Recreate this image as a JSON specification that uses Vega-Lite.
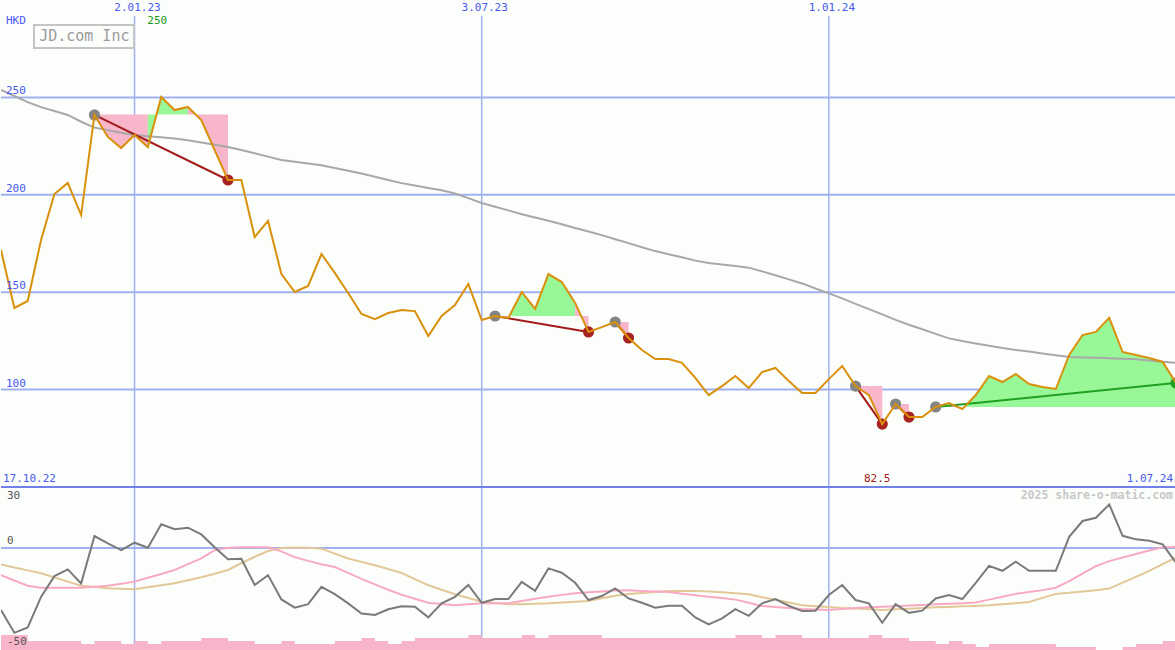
{
"$schema": "https://vega.github.io/schema/vega-lite/v6.json",
"padding": 0,
"spacing": 0,
"bounds": "flush",
"background": "#fcfefc",
"config": {"view": {"stroke": null}, "axis": {"disable": true}, "legend": {"disable": true}},
"datasets": {
"weekly": [
{"date":"2022-10-24","close":171.7,"ma":253.8,"osc":-31.4,"fast":-13.7,"slow":-8.3,"vol":10},
{"date":"2022-10-31","close":141.9,"ma":250.7,"osc":-42.9,"fast":-16.4,"slow":-9.8,"vol":10},
{"date":"2022-11-07","close":145.5,"ma":247.6,"osc":-40.2,"fast":-19.1,"slow":-11.3,"vol":6},
{"date":"2022-11-14","close":176.8,"ma":245.0,"osc":-24.7,"fast":-20.1,"slow":-12.8,"vol":6},
{"date":"2022-11-21","close":200.4,"ma":243.0,"osc":-14.2,"fast":-20.1,"slow":-14.9,"vol":6},
{"date":"2022-11-28","close":206.1,"ma":241.0,"osc":-10.8,"fast":-20.1,"slow":-17.0,"vol":6},
{"date":"2022-12-05","close":189.6,"ma":237.5,"osc":-17.9,"fast":-20.1,"slow":-19.1,"vol":4},
{"date":"2022-12-12","close":241.0,"ma":234.5,"osc":6.1,"fast":-19.6,"slow":-19.7,"vol":6},
{"date":"2022-12-19","close":229.7,"ma":233.2,"osc":2.4,"fast":-19.1,"slow":-20.4,"vol":6},
{"date":"2022-12-26","close":224.0,"ma":231.9,"osc":-1.0,"fast":-18.1,"slow":-20.6,"vol":4},
{"date":"2023-01-02","close":230.7,"ma":230.7,"osc":2.7,"fast":-17.0,"slow":-20.8,"vol":6},
{"date":"2023-01-09","close":224.5,"ma":230.1,"osc":0.2,"fast":-15.0,"slow":-19.8,"vol":4},
{"date":"2023-01-16","close":250.2,"ma":229.5,"osc":12.0,"fast":-13.1,"slow":-18.8,"vol":6},
{"date":"2023-01-23","close":243.5,"ma":228.9,"osc":9.5,"fast":-11.1,"slow":-17.8,"vol":6},
{"date":"2023-01-30","close":245.1,"ma":228.0,"osc":10.3,"fast":-8.1,"slow":-16.3,"vol":6},
{"date":"2023-02-06","close":238.4,"ma":226.9,"osc":6.9,"fast":-5.2,"slow":-14.8,"vol":8},
{"date":"2023-02-13","close":223.0,"ma":225.7,"osc":0.4,"fast":-1.1,"slow":-13.0,"vol":8},
{"date":"2023-02-20","close":207.6,"ma":224.5,"osc":-5.7,"fast":0.2,"slow":-11.1,"vol":6},
{"date":"2023-02-27","close":207.6,"ma":223.0,"osc":-5.4,"fast":0.4,"slow":-7.7,"vol":6},
{"date":"2023-03-06","close":178.3,"ma":221.3,"osc":-18.7,"fast":0.4,"slow":-4.4,"vol":4},
{"date":"2023-03-13","close":186.6,"ma":219.6,"osc":-13.7,"fast":0.4,"slow":-1.5,"vol":4},
{"date":"2023-03-20","close":159.3,"ma":217.9,"osc":-26.0,"fast":-1.7,"slow":0.0,"vol":6},
{"date":"2023-03-27","close":150.1,"ma":217.0,"osc":-30.2,"fast":-4.6,"slow":0.3,"vol":4},
{"date":"2023-04-03","close":153.2,"ma":216.1,"osc":-28.4,"fast":-6.5,"slow":0.2,"vol":4},
{"date":"2023-04-10","close":169.6,"ma":215.2,"osc":-19.6,"fast":-8.2,"slow":-0.3,"vol":4},
{"date":"2023-04-17","close":159.9,"ma":213.8,"osc":-23.3,"fast":-9.6,"slow":-2.8,"vol":6},
{"date":"2023-04-24","close":149.6,"ma":212.3,"osc":-28.0,"fast":-12.6,"slow":-5.3,"vol":6},
{"date":"2023-05-01","close":138.8,"ma":210.9,"osc":-33.1,"fast":-15.6,"slow":-7.0,"vol":8},
{"date":"2023-05-08","close":136.2,"ma":209.3,"osc":-33.9,"fast":-18.4,"slow":-8.7,"vol":6},
{"date":"2023-05-15","close":139.3,"ma":207.6,"osc":-31.0,"fast":-21.1,"slow":-10.6,"vol":4},
{"date":"2023-05-22","close":140.9,"ma":206.0,"osc":-29.5,"fast":-23.6,"slow":-12.6,"vol":6},
{"date":"2023-05-29","close":140.3,"ma":204.8,"osc":-29.7,"fast":-25.7,"slow":-15.7,"vol":8},
{"date":"2023-06-05","close":127.5,"ma":203.5,"osc":-35.1,"fast":-27.7,"slow":-18.8,"vol":8},
{"date":"2023-06-12","close":137.8,"ma":202.3,"osc":-28.0,"fast":-28.3,"slow":-21.1,"vol":8},
{"date":"2023-06-19","close":143.4,"ma":200.7,"osc":-24.7,"fast":-28.9,"slow":-23.4,"vol":8},
{"date":"2023-06-26","close":154.2,"ma":198.3,"osc":-18.7,"fast":-28.4,"slow":-25.3,"vol":10},
{"date":"2023-07-03","close":135.7,"ma":195.8,"osc":-27.7,"fast":-28.0,"slow":-27.2,"vol":8},
{"date":"2023-07-10","close":137.8,"ma":193.9,"osc":-25.8,"fast":-28.0,"slow":-27.8,"vol":8},
{"date":"2023-07-17","close":136.8,"ma":192.0,"osc":-25.8,"fast":-27.9,"slow":-28.5,"vol":8},
{"date":"2023-07-24","close":150.1,"ma":190.0,"osc":-17.1,"fast":-26.8,"slow":-28.4,"vol":10},
{"date":"2023-07-31","close":141.4,"ma":188.3,"osc":-21.6,"fast":-25.7,"slow":-28.2,"vol":8},
{"date":"2023-08-07","close":159.3,"ma":186.7,"osc":-10.3,"fast":-24.6,"slow":-28.0,"vol":10},
{"date":"2023-08-14","close":155.2,"ma":184.9,"osc":-12.5,"fast":-23.7,"slow":-27.6,"vol":10},
{"date":"2023-08-21","close":144.5,"ma":183.0,"osc":-17.6,"fast":-22.9,"slow":-27.2,"vol":10},
{"date":"2023-08-28","close":129.6,"ma":181.2,"osc":-26.3,"fast":-22.4,"slow":-26.8,"vol":10},
{"date":"2023-09-04","close":132.1,"ma":179.3,"osc":-24.3,"fast":-22.0,"slow":-25.4,"vol":8},
{"date":"2023-09-11","close":134.7,"ma":177.2,"osc":-20.4,"fast":-21.5,"slow":-24.1,"vol":8},
{"date":"2023-09-18","close":126.5,"ma":175.2,"osc":-25.5,"fast":-21.4,"slow":-23.2,"vol":8},
{"date":"2023-09-25","close":120.3,"ma":173.1,"osc":-27.7,"fast":-21.7,"slow":-22.7,"vol":8},
{"date":"2023-10-02","close":115.7,"ma":171.1,"osc":-30.2,"fast":-22.0,"slow":-22.2,"vol":8},
{"date":"2023-10-09","close":115.7,"ma":169.5,"osc":-29.2,"fast":-22.3,"slow":-21.8,"vol":8},
{"date":"2023-10-16","close":113.7,"ma":167.9,"osc":-29.2,"fast":-23.1,"slow":-21.8,"vol":8},
{"date":"2023-10-23","close":106.0,"ma":166.2,"osc":-35.1,"fast":-23.9,"slow":-21.8,"vol":8},
{"date":"2023-10-30","close":97.2,"ma":165.0,"osc":-38.6,"fast":-24.7,"slow":-22.0,"vol":8},
{"date":"2023-11-06","close":101.8,"ma":164.2,"osc":-35.6,"fast":-25.3,"slow":-22.4,"vol":8},
{"date":"2023-11-13","close":107.0,"ma":163.4,"osc":-30.9,"fast":-26.1,"slow":-22.9,"vol":10},
{"date":"2023-11-20","close":100.8,"ma":162.6,"osc":-34.3,"fast":-27.7,"slow":-23.4,"vol":10},
{"date":"2023-11-27","close":109.0,"ma":160.7,"osc":-28.0,"fast":-29.3,"slow":-24.9,"vol":8},
{"date":"2023-12-04","close":111.1,"ma":158.7,"osc":-25.8,"fast":-29.8,"slow":-26.2,"vol":10},
{"date":"2023-12-11","close":104.4,"ma":156.6,"osc":-29.2,"fast":-30.4,"slow":-27.6,"vol":10},
{"date":"2023-12-18","close":98.3,"ma":154.5,"osc":-31.9,"fast":-30.9,"slow":-28.9,"vol":8},
{"date":"2023-12-25","close":98.3,"ma":151.9,"osc":-31.7,"fast":-31.1,"slow":-29.4,"vol":8},
{"date":"2024-01-01","close":105.4,"ma":149.4,"osc":-23.8,"fast":-31.4,"slow":-29.8,"vol":8},
{"date":"2024-01-08","close":112.1,"ma":146.8,"osc":-18.7,"fast":-30.9,"slow":-30.3,"vol":8},
{"date":"2024-01-15","close":101.8,"ma":144.0,"osc":-26.3,"fast":-30.4,"slow":-30.6,"vol":8},
{"date":"2024-01-22","close":97.2,"ma":141.3,"osc":-28.0,"fast":-30.0,"slow":-31.0,"vol":10},
{"date":"2024-01-29","close":82.3,"ma":138.6,"osc":-37.8,"fast":-29.7,"slow":-31.3,"vol":8},
{"date":"2024-02-05","close":92.6,"ma":135.8,"osc":-28.4,"fast":-29.4,"slow":-31.0,"vol":8},
{"date":"2024-02-12","close":85.9,"ma":133.3,"osc":-32.8,"fast":-29.1,"slow":-30.7,"vol":6},
{"date":"2024-02-19","close":85.9,"ma":131.0,"osc":-31.7,"fast":-28.8,"slow":-30.3,"vol":6},
{"date":"2024-02-26","close":91.1,"ma":128.6,"osc":-25.5,"fast":-28.5,"slow":-30.0,"vol":4},
{"date":"2024-03-04","close":93.1,"ma":126.3,"osc":-23.8,"fast":-28.2,"slow":-29.8,"vol":6},
{"date":"2024-03-11","close":90.0,"ma":124.9,"osc":-25.8,"fast":-27.9,"slow":-29.5,"vol":4},
{"date":"2024-03-18","close":97.2,"ma":123.7,"osc":-17.6,"fast":-27.5,"slow":-29.3,"vol":2},
{"date":"2024-03-25","close":107.0,"ma":122.5,"osc":-9.0,"fast":-26.1,"slow":-29.0,"vol":4},
{"date":"2024-04-01","close":103.9,"ma":121.3,"osc":-11.5,"fast":-24.6,"slow":-28.5,"vol":4},
{"date":"2024-04-08","close":108.0,"ma":120.3,"osc":-6.9,"fast":-23.2,"slow":-27.9,"vol":4},
{"date":"2024-04-15","close":102.9,"ma":119.5,"osc":-11.5,"fast":-22.2,"slow":-27.3,"vol":4},
{"date":"2024-04-22","close":101.3,"ma":118.5,"osc":-11.5,"fast":-21.3,"slow":-25.2,"vol":4},
{"date":"2024-04-29","close":100.3,"ma":117.6,"osc":-11.5,"fast":-20.1,"slow":-23.2,"vol":2},
{"date":"2024-05-06","close":117.8,"ma":116.7,"osc":5.7,"fast":-16.7,"slow":-22.6,"vol":2},
{"date":"2024-05-13","close":128.0,"ma":116.5,"osc":13.7,"fast":-12.9,"slow":-22.0,"vol":2},
{"date":"2024-05-20","close":129.6,"ma":116.3,"osc":15.3,"fast":-9.2,"slow":-21.3,"vol":0},
{"date":"2024-05-27","close":136.8,"ma":116.1,"osc":22.1,"fast":-6.6,"slow":-20.5,"vol":0},
{"date":"2024-06-03","close":119.3,"ma":115.9,"osc":6.2,"fast":-4.8,"slow":-17.5,"vol":2},
{"date":"2024-06-10","close":117.8,"ma":115.6,"osc":4.4,"fast":-3.0,"slow":-14.6,"vol":4},
{"date":"2024-06-17","close":116.2,"ma":115.0,"osc":3.7,"fast":-1.2,"slow":-11.6,"vol":4},
{"date":"2024-06-24","close":114.2,"ma":114.3,"osc":1.9,"fast":0.4,"slow":-8.1,"vol":6},
{"date":"2024-07-01","close":103.4,"ma":113.7,"osc":-7.4,"fast":0.7,"slow":-4.8,"vol":6}
],
"shade": [
{"g":"a1","sign":"down","base":241.2,"date":"2022-12-12","price":241.0},
{"g":"a1","sign":"down","base":241.2,"date":"2022-12-19","price":229.7},
{"g":"a1","sign":"down","base":241.2,"date":"2022-12-26","price":224.0},
{"g":"a1","sign":"down","base":241.2,"date":"2023-01-02","price":230.7},
{"g":"a1","sign":"down","base":241.2,"date":"2023-01-09","price":224.5},
{"g":"a2","sign":"up","base":241.2,"date":"2023-01-09","price":224.5},
{"g":"a2","sign":"up","base":241.2,"date":"2023-01-16","price":250.2},
{"g":"a2","sign":"up","base":241.2,"date":"2023-01-23","price":243.5},
{"g":"a2","sign":"up","base":241.2,"date":"2023-01-30","price":245.1},
{"g":"a3","sign":"down","base":241.2,"date":"2023-01-30","price":245.1},
{"g":"a3","sign":"down","base":241.2,"date":"2023-02-06","price":238.4},
{"g":"a3","sign":"down","base":241.2,"date":"2023-02-13","price":223.0},
{"g":"a3","sign":"down","base":241.2,"date":"2023-02-20","price":207.6},
{"g":"b1","sign":"down","base":137.8,"date":"2023-07-10","price":137.8},
{"g":"b1","sign":"down","base":137.8,"date":"2023-07-17","price":136.8},
{"g":"b2","sign":"up","base":137.8,"date":"2023-07-17","price":136.8},
{"g":"b2","sign":"up","base":137.8,"date":"2023-07-24","price":150.1},
{"g":"b2","sign":"up","base":137.8,"date":"2023-07-31","price":141.4},
{"g":"b2","sign":"up","base":137.8,"date":"2023-08-07","price":159.3},
{"g":"b2","sign":"up","base":137.8,"date":"2023-08-14","price":155.2},
{"g":"b2","sign":"up","base":137.8,"date":"2023-08-21","price":144.5},
{"g":"b3","sign":"down","base":137.8,"date":"2023-08-21","price":144.5},
{"g":"b3","sign":"down","base":137.8,"date":"2023-08-28","price":129.6},
{"g":"c1","sign":"down","base":134.7,"date":"2023-09-11","price":134.7},
{"g":"c1","sign":"down","base":134.7,"date":"2023-09-18","price":126.5},
{"g":"d1","sign":"down","base":101.8,"date":"2024-01-15","price":101.8},
{"g":"d1","sign":"down","base":101.8,"date":"2024-01-22","price":97.2},
{"g":"d1","sign":"down","base":101.8,"date":"2024-01-29","price":82.3},
{"g":"e1","sign":"down","base":92.6,"date":"2024-02-05","price":92.6},
{"g":"e1","sign":"down","base":92.6,"date":"2024-02-12","price":85.9},
{"g":"f1","sign":"up","base":91.1,"date":"2024-02-26","price":91.1},
{"g":"f1","sign":"up","base":91.1,"date":"2024-03-04","price":93.1},
{"g":"f2","sign":"down","base":91.1,"date":"2024-03-04","price":93.1},
{"g":"f2","sign":"down","base":91.1,"date":"2024-03-11","price":90.0},
{"g":"f3","sign":"up","base":91.1,"date":"2024-03-11","price":90.0},
{"g":"f3","sign":"up","base":91.1,"date":"2024-03-18","price":97.2},
{"g":"f3","sign":"up","base":91.1,"date":"2024-03-25","price":107.0},
{"g":"f3","sign":"up","base":91.1,"date":"2024-04-01","price":103.9},
{"g":"f3","sign":"up","base":91.1,"date":"2024-04-08","price":108.0},
{"g":"f3","sign":"up","base":91.1,"date":"2024-04-15","price":102.9},
{"g":"f3","sign":"up","base":91.1,"date":"2024-04-22","price":101.3},
{"g":"f3","sign":"up","base":91.1,"date":"2024-04-29","price":100.3},
{"g":"f3","sign":"up","base":91.1,"date":"2024-05-06","price":117.8},
{"g":"f3","sign":"up","base":91.1,"date":"2024-05-13","price":128.0},
{"g":"f3","sign":"up","base":91.1,"date":"2024-05-20","price":129.6},
{"g":"f3","sign":"up","base":91.1,"date":"2024-05-27","price":136.8},
{"g":"f3","sign":"up","base":91.1,"date":"2024-06-03","price":119.3},
{"g":"f3","sign":"up","base":91.1,"date":"2024-06-10","price":117.8},
{"g":"f3","sign":"up","base":91.1,"date":"2024-06-17","price":116.2},
{"g":"f3","sign":"up","base":91.1,"date":"2024-06-24","price":114.2},
{"g":"f3","sign":"up","base":91.1,"date":"2024-07-01","price":103.4}
],
"trades": [
{"t":"t1","res":"loss","role":"entry","date":"2022-12-12","price":241.0},
{"t":"t1","res":"loss","role":"loss","date":"2023-02-20","price":207.6},
{"t":"t2","res":"loss","role":"entry","date":"2023-07-10","price":137.8},
{"t":"t2","res":"loss","role":"loss","date":"2023-08-28","price":129.6},
{"t":"t3","res":"loss","role":"entry","date":"2023-09-11","price":134.7},
{"t":"t3","res":"loss","role":"loss","date":"2023-09-18","price":126.5},
{"t":"t4","res":"loss","role":"entry","date":"2024-01-15","price":101.8},
{"t":"t4","res":"loss","role":"loss","date":"2024-01-29","price":82.3},
{"t":"t5","res":"loss","role":"entry","date":"2024-02-05","price":92.6},
{"t":"t5","res":"loss","role":"loss","date":"2024-02-12","price":85.9},
{"t":"t6","res":"win","role":"entry","date":"2024-02-26","price":91.1},
{"t":"t6","res":"win","role":"win","date":"2024-07-01","price":103.4}
],
"gridDates": [
{"date":"2023-01-02","label":"2.01.23"},
{"date":"2023-07-03","label":"3.07.23"},
{"date":"2024-01-01","label":"1.01.24"}
],
"gridLevels": [{"v":100},{"v":150},{"v":200},{"v":250}],
"one": [{}]
},
"vconcat": [
{
"width": 1175,
"height": 487,
"resolve": {"scale": {"color": "independent"}},
"layer": [
{"data": {"name": "gridLevels"},
 "mark": {"type": "rule", "color": "#a0b0f0", "strokeWidth": 2},
 "encoding": {"y": {"field": "v", "type": "quantitative", "scale": {"domain": [50, 300], "nice": false, "zero": false}, "axis": null}}},
{"data": {"name": "gridDates"},
 "mark": {"type": "rule", "color": "#a0b0f0", "strokeWidth": 1.5},
 "encoding": {
  "x": {"field": "date", "type": "temporal", "scale": {"type": "utc", "domain": [{"year": 2022, "month": 10, "date": 24, "utc": true}, {"year": 2024, "month": 7, "date": 1, "utc": true}]}, "axis": null},
  "y": {"datum": 291.8, "type": "quantitative", "scale": {"domain": [50, 300], "nice": false, "zero": false}, "axis": null},
  "y2": {"datum": 50}}},
{"data": {"name": "shade"},
 "mark": {"type": "area", "opacity": 1, "clip": true},
 "encoding": {
  "x": {"field": "date", "type": "temporal", "scale": {"type": "utc", "domain": [{"year": 2022, "month": 10, "date": 24, "utc": true}, {"year": 2024, "month": 7, "date": 1, "utc": true}]}, "axis": null},
  "y": {"field": "price", "type": "quantitative", "stack": null, "scale": {"domain": [50, 300], "nice": false, "zero": false}, "axis": null},
  "y2": {"field": "base"},
  "detail": {"field": "g"},
  "color": {"field": "sign", "type": "nominal", "scale": {"domain": ["up", "down"], "range": ["#98f898", "#f8b6ca"]}, "legend": null}}},
{"data": {"name": "weekly"},
 "mark": {"type": "line", "color": "#a8a8a8", "strokeWidth": 2, "clip": true},
 "encoding": {
  "x": {"field": "date", "type": "temporal", "scale": {"type": "utc", "domain": [{"year": 2022, "month": 10, "date": 24, "utc": true}, {"year": 2024, "month": 7, "date": 1, "utc": true}]}, "axis": null},
  "y": {"field": "ma", "type": "quantitative", "scale": {"domain": [50, 300], "nice": false, "zero": false}, "axis": null}}},
{"data": {"name": "trades"},
 "mark": {"type": "line", "strokeWidth": 2, "clip": true},
 "encoding": {
  "x": {"field": "date", "type": "temporal", "scale": {"type": "utc", "domain": [{"year": 2022, "month": 10, "date": 24, "utc": true}, {"year": 2024, "month": 7, "date": 1, "utc": true}]}, "axis": null},
  "y": {"field": "price", "type": "quantitative", "scale": {"domain": [50, 300], "nice": false, "zero": false}, "axis": null},
  "detail": {"field": "t"},
  "color": {"field": "res", "type": "nominal", "scale": {"domain": ["loss", "win"], "range": ["#a31a1a", "#22a022"]}, "legend": null}}},
{"data": {"name": "trades"},
 "mark": {"type": "circle", "size": 125, "opacity": 1, "clip": true},
 "encoding": {
  "x": {"field": "date", "type": "temporal", "scale": {"type": "utc", "domain": [{"year": 2022, "month": 10, "date": 24, "utc": true}, {"year": 2024, "month": 7, "date": 1, "utc": true}]}, "axis": null},
  "y": {"field": "price", "type": "quantitative", "scale": {"domain": [50, 300], "nice": false, "zero": false}, "axis": null},
  "color": {"field": "role", "type": "nominal", "scale": {"domain": ["entry", "loss", "win"], "range": ["#848484", "#a82222", "#22a022"]}, "legend": null}}},
{"data": {"name": "weekly"},
 "mark": {"type": "line", "color": "#d9900a", "strokeWidth": 2, "clip": true},
 "encoding": {
  "x": {"field": "date", "type": "temporal", "scale": {"type": "utc", "domain": [{"year": 2022, "month": 10, "date": 24, "utc": true}, {"year": 2024, "month": 7, "date": 1, "utc": true}]}, "axis": null},
  "y": {"field": "close", "type": "quantitative", "scale": {"domain": [50, 300], "nice": false, "zero": false}, "axis": null}}},
{"data": {"name": "one"},
 "mark": {"type": "rule", "color": "#7080e8", "strokeWidth": 2, "clip": true},
 "encoding": {"y": {"datum": 50, "type": "quantitative", "scale": {"domain": [50, 300], "nice": false, "zero": false}, "axis": null}}},
{"data": {"name": "gridDates"},
 "mark": {"type": "text", "font": "DejaVu Sans Mono", "fontSize": 11, "color": "#4858f0", "align": "center", "baseline": "middle", "dx": 3},
 "encoding": {
  "x": {"field": "date", "type": "temporal", "scale": {"type": "utc", "domain": [{"year": 2022, "month": 10, "date": 24, "utc": true}, {"year": 2024, "month": 7, "date": 1, "utc": true}]}, "axis": null},
  "y": {"datum": 295.7, "type": "quantitative", "scale": {"domain": [50, 300], "nice": false, "zero": false}, "axis": null},
  "text": {"field": "label", "type": "nominal"}}},
{"data": {"name": "gridLevels"},
 "mark": {"type": "text", "font": "DejaVu Sans Mono", "fontSize": 11, "color": "#4858f0", "align": "left", "baseline": "middle", "dx": 5, "dy": -6},
 "encoding": {
  "x": {"datum": {"year": 2022, "month": 10, "date": 24, "utc": true}, "type": "temporal", "scale": {"type": "utc", "domain": [{"year": 2022, "month": 10, "date": 24, "utc": true}, {"year": 2024, "month": 7, "date": 1, "utc": true}]}, "axis": null},
  "y": {"field": "v", "type": "quantitative", "scale": {"domain": [50, 300], "nice": false, "zero": false}, "axis": null},
  "text": {"field": "v", "type": "nominal"}}},
{"data": {"name": "one"},
 "mark": {"type": "text", "text": "HKD", "font": "DejaVu Sans Mono", "fontSize": 11, "color": "#4858f0", "align": "left", "baseline": "middle", "dx": 5},
 "encoding": {
  "x": {"datum": {"year": 2022, "month": 10, "date": 24, "utc": true}, "type": "temporal", "scale": {"type": "utc", "domain": [{"year": 2022, "month": 10, "date": 24, "utc": true}, {"year": 2024, "month": 7, "date": 1, "utc": true}]}, "axis": null},
  "y": {"datum": 289.2, "type": "quantitative", "scale": {"domain": [50, 300], "nice": false, "zero": false}, "axis": null}}},
{"data": {"name": "one"},
 "mark": {"type": "text", "text": "250", "font": "DejaVu Sans Mono", "fontSize": 11, "color": "#1a9a1a", "align": "center", "baseline": "middle", "dx": -4},
 "encoding": {
  "x": {"datum": {"year": 2023, "month": 1, "date": 16, "utc": true}, "type": "temporal", "scale": {"type": "utc", "domain": [{"year": 2022, "month": 10, "date": 24, "utc": true}, {"year": 2024, "month": 7, "date": 1, "utc": true}]}, "axis": null},
  "y": {"datum": 289.2, "type": "quantitative", "scale": {"domain": [50, 300], "nice": false, "zero": false}, "axis": null}}},
{"data": {"name": "one"},
 "mark": {"type": "rect", "filled": false, "color": "#c4c4c4", "strokeWidth": 2},
 "encoding": {
  "x": {"datum": {"year": 2022, "month": 11, "date": 10, "hours": 7, "utc": true}, "type": "temporal", "scale": {"type": "utc", "domain": [{"year": 2022, "month": 10, "date": 24, "utc": true}, {"year": 2024, "month": 7, "date": 1, "utc": true}]}, "axis": null},
  "x2": {"datum": {"year": 2023, "month": 1, "date": 1, "hours": 17, "utc": true}},
  "y": {"datum": 287.2, "type": "quantitative", "scale": {"domain": [50, 300], "nice": false, "zero": false}, "axis": null},
  "y2": {"datum": 275.4}}},
{"data": {"name": "one"},
 "mark": {"type": "text", "text": "JD.com Inc", "font": "DejaVu Sans Mono", "fontSize": 15, "color": "#9a9a9a", "align": "left", "baseline": "middle"},
 "encoding": {
  "x": {"datum": {"year": 2022, "month": 11, "date": 13, "utc": true}, "type": "temporal", "scale": {"type": "utc", "domain": [{"year": 2022, "month": 10, "date": 24, "utc": true}, {"year": 2024, "month": 7, "date": 1, "utc": true}]}, "axis": null},
  "y": {"datum": 281.3, "type": "quantitative", "scale": {"domain": [50, 300], "nice": false, "zero": false}, "axis": null}}},
{"data": {"name": "one"},
 "mark": {"type": "text", "text": "17.10.22", "font": "DejaVu Sans Mono", "fontSize": 11, "color": "#4858f0", "align": "left", "baseline": "middle", "dx": 2},
 "encoding": {
  "x": {"datum": {"year": 2022, "month": 10, "date": 24, "utc": true}, "type": "temporal", "scale": {"type": "utc", "domain": [{"year": 2022, "month": 10, "date": 24, "utc": true}, {"year": 2024, "month": 7, "date": 1, "utc": true}]}, "axis": null},
  "y": {"datum": 54.1, "type": "quantitative", "scale": {"domain": [50, 300], "nice": false, "zero": false}, "axis": null}}},
{"data": {"name": "one"},
 "mark": {"type": "text", "text": "82.5", "font": "DejaVu Sans Mono", "fontSize": 11, "color": "#a01818", "align": "center", "baseline": "middle", "dx": -5},
 "encoding": {
  "x": {"datum": {"year": 2024, "month": 1, "date": 29, "utc": true}, "type": "temporal", "scale": {"type": "utc", "domain": [{"year": 2022, "month": 10, "date": 24, "utc": true}, {"year": 2024, "month": 7, "date": 1, "utc": true}]}, "axis": null},
  "y": {"datum": 54.1, "type": "quantitative", "scale": {"domain": [50, 300], "nice": false, "zero": false}, "axis": null}}},
{"data": {"name": "one"},
 "mark": {"type": "text", "text": "1.07.24", "font": "DejaVu Sans Mono", "fontSize": 11, "color": "#4858f0", "align": "right", "baseline": "middle", "dx": -3},
 "encoding": {
  "x": {"datum": {"year": 2024, "month": 7, "date": 1, "utc": true}, "type": "temporal", "scale": {"type": "utc", "domain": [{"year": 2022, "month": 10, "date": 24, "utc": true}, {"year": 2024, "month": 7, "date": 1, "utc": true}]}, "axis": null},
  "y": {"datum": 54.1, "type": "quantitative", "scale": {"domain": [50, 300], "nice": false, "zero": false}, "axis": null}}}
]
},
{
"width": 1175,
"height": 163,
"resolve": {"scale": {"y": "independent"}},
"layer": [
{"data": {"name": "gridDates"},
 "mark": {"type": "rule", "color": "#a0b0f0", "strokeWidth": 1.5},
 "encoding": {
  "x": {"field": "date", "type": "temporal", "scale": {"type": "utc", "domain": [{"year": 2022, "month": 10, "date": 24, "utc": true}, {"year": 2024, "month": 7, "date": 1, "utc": true}]}, "axis": null}}},
{"data": {"name": "one"},
 "mark": {"type": "rule", "color": "#a0b0f0", "strokeWidth": 2},
 "encoding": {"y": {"datum": 0, "type": "quantitative", "scale": {"domain": [-51.6, 30.9], "nice": false, "zero": false}, "axis": null}}},
{"data": {"name": "one"},
 "mark": {"type": "rule", "color": "#7080e8", "strokeWidth": 2, "clip": true},
 "encoding": {"y": {"datum": 30.9, "type": "quantitative", "scale": {"domain": [-51.6, 30.9], "nice": false, "zero": false}, "axis": null}}},
{"data": {"name": "weekly"},
 "mark": {"type": "area", "interpolate": "step-after", "color": "#f8b4c8", "opacity": 1},
 "encoding": {
  "x": {"field": "date", "type": "temporal", "scale": {"type": "utc", "domain": [{"year": 2022, "month": 10, "date": 24, "utc": true}, {"year": 2024, "month": 7, "date": 1, "utc": true}]}, "axis": null},
  "y": {"field": "vol", "type": "quantitative", "scale": {"domain": [0, 108.7], "nice": false}, "axis": null}}},
{"data": {"name": "weekly"},
 "mark": {"type": "line", "color": "#e2c898", "strokeWidth": 2, "clip": true},
 "encoding": {
  "x": {"field": "date", "type": "temporal", "scale": {"type": "utc", "domain": [{"year": 2022, "month": 10, "date": 24, "utc": true}, {"year": 2024, "month": 7, "date": 1, "utc": true}]}, "axis": null},
  "y": {"field": "slow", "type": "quantitative", "scale": {"domain": [-51.6, 30.9], "nice": false, "zero": false}, "axis": null}}},
{"data": {"name": "weekly"},
 "mark": {"type": "line", "color": "#f8aac2", "strokeWidth": 2, "clip": true},
 "encoding": {
  "x": {"field": "date", "type": "temporal", "scale": {"type": "utc", "domain": [{"year": 2022, "month": 10, "date": 24, "utc": true}, {"year": 2024, "month": 7, "date": 1, "utc": true}]}, "axis": null},
  "y": {"field": "fast", "type": "quantitative", "scale": {"domain": [-51.6, 30.9], "nice": false, "zero": false}, "axis": null}}},
{"data": {"name": "weekly"},
 "mark": {"type": "line", "color": "#7a7a7a", "strokeWidth": 2, "clip": true},
 "encoding": {
  "x": {"field": "date", "type": "temporal", "scale": {"type": "utc", "domain": [{"year": 2022, "month": 10, "date": 24, "utc": true}, {"year": 2024, "month": 7, "date": 1, "utc": true}]}, "axis": null},
  "y": {"field": "osc", "type": "quantitative", "scale": {"domain": [-51.6, 30.9], "nice": false, "zero": false}, "axis": null}}},
{"data": {"values": [{"v": 26.3, "label": "30"}, {"v": 3.4, "label": "0"}, {"v": -47.5, "label": "-50"}]},
 "mark": {"type": "text", "font": "DejaVu Sans Mono", "fontSize": 11, "color": "#555555", "align": "left", "baseline": "middle", "dx": 6},
 "encoding": {
  "x": {"datum": {"year": 2022, "month": 10, "date": 24, "utc": true}, "type": "temporal", "scale": {"type": "utc", "domain": [{"year": 2022, "month": 10, "date": 24, "utc": true}, {"year": 2024, "month": 7, "date": 1, "utc": true}]}, "axis": null},
  "y": {"field": "v", "type": "quantitative", "scale": {"domain": [-51.6, 30.9], "nice": false, "zero": false}, "axis": null},
  "text": {"field": "label", "type": "nominal"}}},
{"data": {"name": "one"},
 "mark": {"type": "text", "text": "2025 share-o-matic.com", "font": "DejaVu Sans Mono", "fontSize": 11.5, "fontWeight": "bold", "color": "#c8c8c8", "align": "right", "baseline": "middle", "dx": -3},
 "encoding": {
  "x": {"datum": {"year": 2024, "month": 7, "date": 1, "utc": true}, "type": "temporal", "scale": {"type": "utc", "domain": [{"year": 2022, "month": 10, "date": 24, "utc": true}, {"year": 2024, "month": 7, "date": 1, "utc": true}]}, "axis": null},
  "y": {"datum": 26.4, "type": "quantitative", "scale": {"domain": [-51.6, 30.9], "nice": false, "zero": false}, "axis": null}}}
]
}
]
}
